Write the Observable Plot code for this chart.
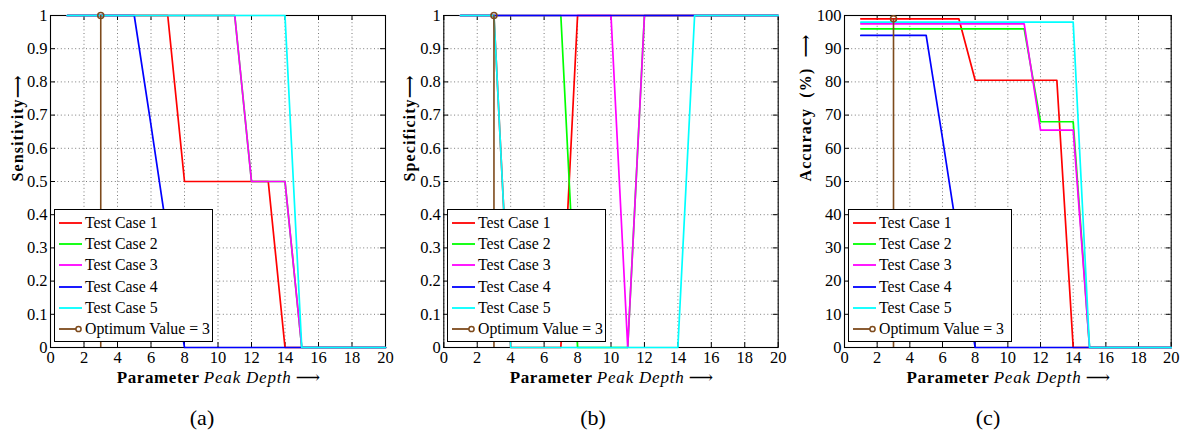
<!DOCTYPE html>
<html>
<head>
<meta charset="utf-8">
<script src="https://cdn.jsdelivr.net/npm/d3@7"></script>
<script src="https://cdn.jsdelivr.net/npm/@observablehq/plot@0.6"></script>
<style>
  body { margin: 0; background: #fff; }
  #wrap { position: relative; width: 1188px; height: 437px; overflow: hidden; background: #fff;
          font-family: "Liberation Serif", "DejaVu Serif", "Times New Roman", serif; color: #000; }
  .panel { position: absolute; top: 0; }
  .xlab { position: absolute; top: 368px; font-size: 17px; line-height: 20px; white-space: nowrap; transform: translateX(-50%); }
  .xlab b { letter-spacing: 0.6px; }
  .xlab i { letter-spacing: 0.8px; }
  .plab { position: absolute; top: 406px; font-size: 22px; line-height: 24px; white-space: nowrap; transform: translateX(-50%); }
  .legend { position: absolute; border: 1.2px solid #000; background: #fff; box-sizing: border-box; padding: 2px 0 0 0; }
  .row { display: flex; align-items: center; height: 21.3px; font-size: 15.8px; white-space: nowrap; }
  .row svg { margin-left: 4px; margin-right: 3px; flex: none; }
</style>
</head>
<body>
<div id="wrap"></div>
<script>
// ---------- data ----------
const xs = [1, 2, 3, 4, 5, 6, 7, 8, 9, 10, 11, 12, 13, 14, 15, 16, 17, 18, 19, 20];
const seriesNames = ["Test Case 1", "Test Case 2", "Test Case 3", "Test Case 4", "Test Case 5"];
const seriesColors = ["#ff0000", "#00ff00", "#ff00ff", "#0000ff", "#00ffff"];
const optLabel = "Optimum Value = 3";
const optColor = "#7d4a1c";
const optX = 3;

// (a) Sensitivity
const sens1 = [1, 1, 1, 1, 1, 1, 1, 0.5, 0.5, 0.5, 0.5, 0.5, 0.5, 0, 0, 0, 0, 0, 0, 0];
const sens2 = [1, 1, 1, 1, 1, 1, 1, 1, 1, 1, 1, 0.5, 0.5, 0.5, 0, 0, 0, 0, 0, 0];
const sens3 = [1, 1, 1, 1, 1, 1, 1, 1, 1, 1, 1, 0.5, 0.5, 0.5, 0, 0, 0, 0, 0, 0];
const sens4 = [1, 1, 1, 1, 1, 0.67, 0.33, 0, 0, 0, 0, 0, 0, 0, 0, 0, 0, 0, 0, 0];
const sens5 = [1, 1, 1, 1, 1, 1, 1, 1, 1, 1, 1, 1, 1, 1, 0, 0, 0, 0, 0, 0];
const optSens = 1;

// (b) Specificity
const spec1 = [1, 1, 1, 0, 0, 0, 0, 1, 1, 1, 1, 1, 1, 1, 1, 1, 1, 1, 1, 1];
const spec2 = [1, 1, 1, 1, 1, 1, 1, 0, 0, 0, 0, 1, 1, 1, 1, 1, 1, 1, 1, 1];
const spec3 = [1, 1, 1, 1, 1, 1, 1, 1, 1, 1, 0, 1, 1, 1, 1, 1, 1, 1, 1, 1];
const spec4 = [1, 1, 1, 1, 1, 1, 1, 1, 1, 1, 1, 1, 1, 1, 1, 1, 1, 1, 1, 1];
const spec5 = [1, 1, 1, 0, 0, 0, 0, 0, 0, 0, 0, 0, 0, 0, 1, 1, 1, 1, 1, 1];
const optSpec = 1;

// (c) Accuracy (%)
const acc1 = [99, 99, 99, 99, 99, 99, 99, 80.5, 80.5, 80.5, 80.5, 80.5, 80.5, 0, 0, 0, 0, 0, 0, 0];
const acc2 = [96, 96, 96, 96, 96, 96, 96, 96, 96, 96, 96, 68, 68, 68, 0, 0, 0, 0, 0, 0];
const acc3 = [97.5, 97.5, 97.5, 97.5, 97.5, 97.5, 97.5, 97.5, 97.5, 97.5, 97.5, 65.5, 65.5, 65.5, 0, 0, 0, 0, 0, 0];
const acc4 = [94, 94, 94, 94, 94, 63, 31, 0, 0, 0, 0, 0, 0, 0, 0, 0, 0, 0, 0, 0];
const acc5 = [98, 98, 98, 98, 98, 98, 98, 98, 98, 98, 98, 98, 98, 98, 0, 0, 0, 0, 0, 0];
const optAcc = 99;

const xTicks = [0, 2, 4, 6, 8, 10, 12, 14, 16, 18, 20];
const yTicksUnit = [0, 0.1, 0.2, 0.3, 0.4, 0.5, 0.6, 0.7, 0.8, 0.9, 1];
const yTicksPct = [0, 10, 20, 30, 40, 50, 60, 70, 80, 90, 100];
const yLabels = ["Sensitivity\u27F6", "Specificity\u27F6", "Accuracy  (%)  \u27F6"];
const panelLabels = ["(a)", "(b)", "(c)"];

// ---------- drawing ----------
const wrap = document.getElementById("wrap");
const W = 396, H = 437, mT = 15, mB = 90;

function makePanel(cfg) {
  const pw = W - cfg.mL - cfg.mR, ph = H - mT - mB;
  const data = cfg.series.flatMap((vals, i) => vals.map((v, j) => ({x: xs[j], y: v, s: seriesNames[i]})));
  const opt = [{x: optX, y: cfg.opt}];
  const gridStyle = {stroke: "#7a7a7a", strokeOpacity: 1, strokeWidth: 1, strokeDasharray: "1,2.6"};
  const svg = Plot.plot({
    width: W, height: H,
    marginLeft: cfg.mL, marginRight: cfg.mR, marginTop: mT, marginBottom: mB,
    x: {domain: [0, 20]},
    y: {domain: [0, cfg.yMax]},
    color: {domain: seriesNames, range: seriesColors},
    style: {fontFamily: '"Liberation Serif", "DejaVu Serif", "Times New Roman", serif', fontSize: "16px", background: "transparent", color: "#000", overflow: "visible"},
    marks: [
      Plot.gridX(xTicks, gridStyle),
      Plot.gridY(cfg.yTicks, gridStyle),
      Plot.frame({stroke: "#000", strokeWidth: 1.1}),
      Plot.tickX(xTicks, {x: d => d, insetTop: ph - 5, stroke: "#000"}),
      Plot.tickX(xTicks, {x: d => d, insetBottom: ph - 5, stroke: "#000"}),
      Plot.tickY(cfg.yTicks, {y: d => d, insetRight: pw - 5, stroke: "#000"}),
      Plot.tickY(cfg.yTicks, {y: d => d, insetLeft: pw - 5, stroke: "#000"}),
      Plot.axisX(xTicks, {tickSize: 0, tickPadding: 4, label: null, fontSize: 16.5, tickFormat: d => String(d)}),
      Plot.axisY(cfg.yTicks, {tickSize: 0, tickPadding: 3, label: null, fontSize: 16.5, tickFormat: d => String(d)}),
      Plot.line(data, {x: "x", y: "y", z: "s", stroke: "s", strokeWidth: 1.7}),
      Plot.ruleX(opt, {x: "x", y1: 0, y2: "y", stroke: optColor, strokeWidth: 1.6}),
      Plot.dot(opt, {x: "x", y: "y", r: 3, stroke: optColor, strokeWidth: 1.5, fill: "none"}),
      Plot.text([cfg.yLabel], {text: d => d, frameAnchor: "left", dx: cfg.yLabDx, rotate: -90, fontWeight: "bold", fontSize: 16})
    ]
  });
  svg.classList.add("panel");
  svg.style.left = cfg.left + "px";
  svg.querySelectorAll('g[aria-label="text"] text').forEach(t => { t.style.letterSpacing = "1.1px"; });
  wrap.appendChild(svg);

  // x-axis label
  const xl = document.createElement("div");
  xl.className = "xlab";
  xl.style.left = (cfg.left + cfg.mL + pw / 2 + 1) + "px";
  xl.innerHTML = "<b>Parameter</b> <i>Peak Depth</i> \u27F6";
  wrap.appendChild(xl);

  // panel label
  const pl = document.createElement("div");
  pl.className = "plab";
  pl.style.left = cfg.plabX + "px";
  pl.textContent = cfg.panelLabel;
  wrap.appendChild(pl);

  // legend
  const lg = document.createElement("div");
  lg.className = "legend";
  lg.style.left = cfg.legLeft + "px";
  lg.style.top = "209px";
  lg.style.width = cfg.legW + "px";
  lg.style.height = "133px";
  const entries = seriesNames.map((n, i) => ({name: n, color: seriesColors[i], marker: false}))
    .concat([{name: optLabel, color: optColor, marker: true}]);
  for (const e of entries) {
    const row = document.createElement("div");
    row.className = "row";
    row.innerHTML =
      `<svg width="23" height="10"><line x1="0" y1="5" x2="${e.marker ? 17 : 23}" y2="5" stroke="${e.color}" stroke-width="1.8"/>` +
      (e.marker ? `<circle cx="19.5" cy="5" r="2.6" fill="none" stroke="${e.color}" stroke-width="1.5"/>` : "") +
      `</svg><span>${e.name}</span>`;
    lg.appendChild(row);
  }
  wrap.appendChild(lg);
}

makePanel({series: [sens1, sens2, sens3, sens4, sens5], opt: optSens, yTicks: yTicksUnit, yMax: 1,
  yLabel: yLabels[0], left: 0, mL: 50, mR: 11, yLabDx: -33, plabX: 202, panelLabel: panelLabels[0],
  legLeft: 54, legW: 159});
makePanel({series: [spec1, spec2, spec3, spec4, spec5], opt: optSpec, yTicks: yTicksUnit, yMax: 1,
  yLabel: yLabels[1], left: 396, mL: 47.3, mR: 14.3, yLabDx: -33.5, plabX: 593, panelLabel: panelLabels[1],
  legLeft: 447, legW: 159});
makePanel({series: [acc1, acc2, acc3, acc4, acc5], opt: optAcc, yTicks: yTicksPct, yMax: 100,
  yLabel: yLabels[2], left: 792, mL: 52, mR: 17.3, yLabDx: -39, plabX: 988, panelLabel: panelLabels[2],
  legLeft: 848, legW: 164});
</script>
</body>
</html>
